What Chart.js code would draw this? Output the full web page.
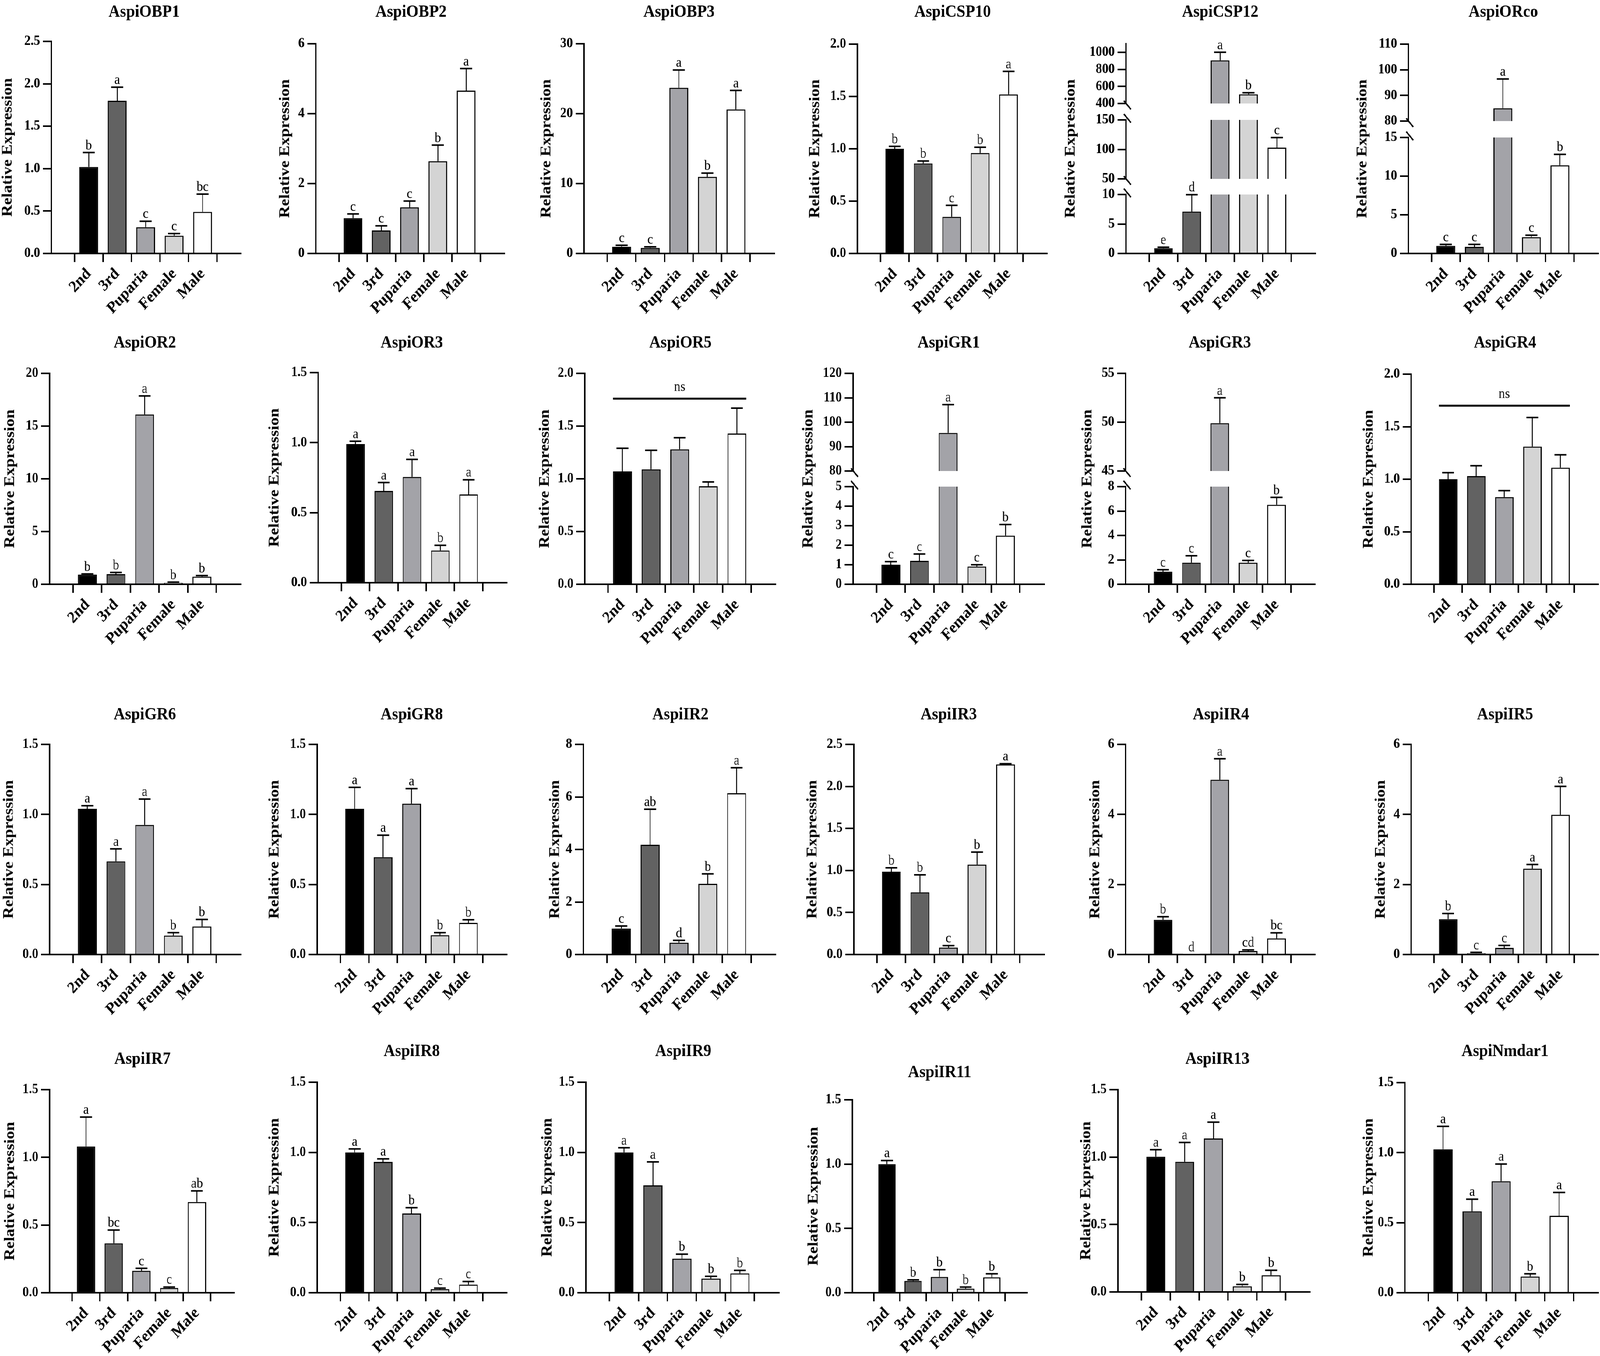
<!DOCTYPE html>
<html>
<head>
<meta charset="utf-8">
<script src="https://cdn.jsdelivr.net/npm/chart.js@4.4.1/dist/chart.umd.min.js"></script>
<style>
  html, body { margin: 0; padding: 0; background: #fff; overflow: hidden; }
  #wrap { position: relative; overflow: hidden; background: #fff; }
  #fig { position: absolute; left: 0; top: 0; width: 4550px; height: 3472px; transform-origin: 0 0; }
  #fig canvas { position: absolute; }
</style>
</head>
<body>
<div id="wrap"><div id="fig"></div></div>
<script>
// qPCR relative expression, mean and SE per developmental stage
const stages = ['2nd', '3rd', 'Puparia', 'Female', 'Male'];
const genes = ['AspiOBP1', 'AspiOBP2', 'AspiOBP3', 'AspiCSP10', 'AspiCSP12', 'AspiORco',
  'AspiOR2', 'AspiOR3', 'AspiOR5', 'AspiGR1', 'AspiGR3', 'AspiGR4',
  'AspiGR6', 'AspiGR8', 'AspiIR2', 'AspiIR3', 'AspiIR4', 'AspiIR5',
  'AspiIR7', 'AspiIR8', 'AspiIR9', 'AspiIR11', 'AspiIR13', 'AspiNmdar1'];

const means = [
  [1.02, 1.80, 0.31, 0.21, 0.49],
  [1.01, 0.66, 1.32, 2.64, 4.66],
  [0.95, 0.80, 23.7, 10.96, 20.6],
  [1.00, 0.86, 0.35, 0.96, 1.52],
  [0.9, 7.1, 905, 508, 103],
  [0.98, 0.86, 85, 2.11, 11.4],
  [0.92, 0.96, 16.1, 0.14, 0.72],
  [0.99, 0.655, 0.755, 0.23, 0.63],
  [1.07, 1.09, 1.28, 0.93, 1.43],
  [1.0, 1.2, 95.6, 0.91, 2.49],
  [1.03, 1.77, 49.9, 1.77, 6.51],
  [1.0, 1.03, 0.83, 1.31, 1.11],
  [1.04, 0.665, 0.925, 0.135, 0.2],
  [1.04, 0.695, 1.077, 0.138, 0.226],
  [0.99, 4.18, 0.45, 2.69, 6.14],
  [0.985, 0.74, 0.082, 1.07, 2.262],
  [0.99, 0.005, 4.99, 0.1, 0.46],
  [1.01, 0.04, 0.19, 2.45, 3.99],
  [1.08, 0.365, 0.162, 0.035, 0.67],
  [1.0, 0.932, 0.565, 0.026, 0.058],
  [1.0, 0.765, 0.243, 0.101, 0.138],
  [1.0, 0.092, 0.123, 0.032, 0.12],
  [1.003, 0.965, 1.138, 0.042, 0.124],
  [1.024, 0.581, 0.796, 0.116, 0.549]
];

const errors = [
  [0.17, 0.16, 0.07, 0.025, 0.21],
  [0.12, 0.13, 0.18, 0.46, 0.63],
  [0.22, 0.15, 2.54, 0.54, 2.72],
  [0.023, 0.023, 0.11, 0.055, 0.22],
  [0.16, 2.87, 95, 18, 17],
  [0.2, 0.32, 11.4, 0.25, 1.42],
  [0.06, 0.16, 1.76, 0.06, 0.1],
  [0.02, 0.06, 0.125, 0.037, 0.105],
  [0.22, 0.18, 0.11, 0.04, 0.24],
  [0.16, 0.35, 11.6, 0.09, 0.57],
  [0.16, 0.57, 2.6, 0.18, 0.61],
  [0.062, 0.098, 0.061, 0.277, 0.122],
  [0.022, 0.089, 0.185, 0.021, 0.05],
  [0.153, 0.157, 0.107, 0.018, 0.022],
  [0.095, 1.35, 0.09, 0.38, 0.97],
  [0.047, 0.208, 0.024, 0.149, 0.008],
  [0.09, 0, 0.6, 0.03, 0.16],
  [0.16, 0.02, 0.07, 0.12, 0.81],
  [0.217, 0.098, 0.018, 0.007, 0.082],
  [0.025, 0.022, 0.041, 0.007, 0.022],
  [0.033, 0.167, 0.032, 0.016, 0.021],
  [0.028, 0.008, 0.056, 0.012, 0.027],
  [0.052, 0.143, 0.121, 0.014, 0.037],
  [0.164, 0.087, 0.123, 0.019, 0.167]
];

const letters = [
  ['b', 'a', 'c', 'c', 'bc'],
  ['c', 'c', 'c', 'b', 'a'],
  ['c', 'c', 'a', 'b', 'a'],
  ['b', 'b', 'c', 'b', 'a'],
  ['e', 'd', 'a', 'b', 'c'],
  ['c', 'c', 'a', 'c', 'b'],
  ['b', 'b', 'a', 'b', 'b'],
  ['a', 'a', 'a', 'b', 'a'],
  [],
  ['c', 'c', 'a', 'c', 'b'],
  ['c', 'c', 'a', 'c', 'b'],
  [],
  ['a', 'a', 'a', 'b', 'b'],
  ['a', 'a', 'a', 'b', 'b'],
  ['c', 'ab', 'd', 'b', 'a'],
  ['b', 'b', 'c', 'b', 'a'],
  ['b', 'd', 'a', 'cd', 'bc'],
  ['b', 'c', 'c', 'a', 'a'],
  ['a', 'bc', 'c', 'c', 'ab'],
  ['a', 'a', 'b', 'c', 'c'],
  ['a', 'a', 'b', 'b', 'b'],
  ['a', 'b', 'b', 'b', 'b'],
  ['a', 'a', 'a', 'b', 'b'],
  ['a', 'a', 'a', 'b', 'a']
];

// "ns" bracket height (no significant difference)
const nsLevel = [null, null, null, null, null, null, null, null, 1.76, null, null, 1.70,
  null, null, null, null, null, null, null, null, null, null, null, null];

// y axis pieces [min, max, step], lowest piece first (several = broken axis)
const yRanges = [
  [[0, 2.5, 0.5]],
  [[0, 6, 2]],
  [[0, 30, 10]],
  [[0, 2, 0.5]],
  [[0, 10, 5], [50, 150, 50], [400, 1100, 200]],
  [[0, 15, 5], [80, 110, 10]],
  [[0, 20, 5]],
  [[0, 1.5, 0.5]],
  [[0, 2, 0.5]],
  [[0, 5, 1], [80, 120, 10]],
  [[0, 8, 2], [45, 55, 5]],
  [[0, 2, 0.5]],
  [[0, 1.5, 0.5]],
  [[0, 1.5, 0.5]],
  [[0, 8, 2]],
  [[0, 2.5, 0.5]],
  [[0, 6, 2]],
  [[0, 6, 2]],
  [[0, 1.5, 0.5]],
  [[0, 1.5, 0.5]],
  [[0, 1.5, 0.5]],
  [[0, 1.5, 0.5]],
  [[0, 1.5, 0.5]],
  [[0, 1.5, 0.5]]
];

// page layout: axisX, right, titleX, titleY, yTitleX, piece spans [top, bottom]
const layout = [
  [146, 685, 410, 31, 22, [[106, 649]]],
  [898, 1434, 1169, 31, 811, [[112, 649]]],
  [1661, 2202, 1931, 31, 1554, [[112, 649]]],
  [2438, 2977, 2709, 31, 2318, [[113, 649]]],
  [3202, 3740, 3470, 31, 3045, [[498, 649], [307, 458], [112, 265]]],
  [4005, 4545, 4275, 31, 3875, [[352, 649], [113, 310]]],
  [141, 684, 412, 878, 29, [[956, 1496]]],
  [905, 1441, 1171, 878, 781, [[954, 1492]]],
  [1663, 2205, 1935, 878, 1550, [[956, 1496]]],
  [2426, 2969, 2698, 878, 2299, [[1246, 1496], [956, 1206]]],
  [3201, 3739, 3469, 878, 3093, [[1246, 1496], [956, 1206]]],
  [4013, 4545, 4280, 878, 3893, [[958, 1496]]],
  [141, 684, 412, 1830, 26, [[1906, 2444]]],
  [902, 1441, 1171, 1830, 781, [[1906, 2444]]],
  [1659, 2205, 1935, 1830, 1579, [[1906, 2444]]],
  [2428, 2969, 2698, 1830, 2311, [[1906, 2444]]],
  [3201, 3739, 3472, 1830, 3115, [[1906, 2444]]],
  [4013, 4545, 4280, 1830, 3927, [[1906, 2444]]],
  [141, 666, 405, 2712, 29, [[2790, 3310]]],
  [902, 1441, 1171, 2692, 781, [[2771, 3310]]],
  [1666, 2215, 1943, 2692, 1557, [[2771, 3310]]],
  [2424, 2921, 2672, 2746, 2314, [[2816, 3310]]],
  [3179, 3725, 3462, 2712, 3089, [[2790, 3308]]],
  [3995, 4545, 4280, 2692, 3893, [[2772, 3310]]]
];

const FONT = 'Liberation Serif';
const barColors = ['#000000', '#626262', '#a3a3a8', '#d4d4d4', '#ffffff'];
const X_AXIS_H = 160;

// stretch the 4550 x 3472 figure over the whole window
const fig = document.getElementById('fig');
const wrap = document.getElementById('wrap');
const vw = document.documentElement.clientWidth || window.innerWidth;
const vh = document.documentElement.clientHeight || window.innerHeight;
const sx = vw / 4550, sy = vh / 3472;
wrap.style.width = vw + 'px';
wrap.style.height = vh + 'px';
fig.style.transform = 'scale(' + sx + ',' + sy + ')';
const dpr = (window.devicePixelRatio || 1) * Math.max(sx, sy);

function decorPlugin(g, k, nPieces, cl, ct) {
  const isBottom = k === 0, isTop = k === nPieces - 1;
  return {
    id: 'decor' + g + '_' + k,
    afterDatasetsDraw(chart) {
      const ctx = chart.ctx, ys = chart.scales.y;
      const bars = chart.getDatasetMeta(0).data;
      ctx.save();
      ctx.strokeStyle = '#000';
      ctx.fillStyle = '#000';
      means[g].forEach((m, i) => {
        const hi = m + errors[g][i];
        if (hi < ys.min || (hi > ys.max && !isTop)) return;
        const bx = bars[i].x;
        const yv = ys.getPixelForValue(Math.max(m, ys.min));
        const yh = ys.getPixelForValue(hi);
        if (errors[g][i] > 0) {
          ctx.lineWidth = 2.5;
          ctx.beginPath();
          ctx.moveTo(bx, yv);
          ctx.lineTo(bx, yh);
          ctx.stroke();
          ctx.lineWidth = 4;
          ctx.beginPath();
          ctx.moveTo(bx - 17, yh);
          ctx.lineTo(bx + 17, yh);
          ctx.stroke();
        }
        const lt = letters[g][i];
        if (lt) {
          ctx.font = '36px "' + FONT + '"';
          ctx.textAlign = 'center';
          ctx.textBaseline = 'alphabetic';
          ctx.fillText(lt, bx, yh - 8);
        }
      });
      if (nsLevel[g] != null && isTop) {
        const y = ys.getPixelForValue(nsLevel[g]);
        const x0 = bars[0].x - bars[0].width / 2;
        const x1 = bars[4].x + bars[4].width / 2;
        ctx.lineWidth = 5;
        ctx.beginPath();
        ctx.moveTo(x0, y);
        ctx.lineTo(x1, y);
        ctx.stroke();
        ctx.font = '36px "' + FONT + '"';
        ctx.textAlign = 'center';
        ctx.textBaseline = 'alphabetic';
        ctx.fillText('ns', (x0 + x1) / 2, y - 20);
      }
      ctx.restore();
    },
    afterDraw(chart) {
      const ctx = chart.ctx, area = chart.chartArea;
      ctx.save();
      ctx.strokeStyle = '#000';
      ctx.fillStyle = '#000';
      ctx.lineWidth = 4;
      // break marks on the y axis
      const slash = (yEdge, dir) => {
        const cx = area.left + 4, cy = yEdge + dir * 4;
        ctx.beginPath();
        ctx.moveTo(cx - 10, cy - 11);
        ctx.lineTo(cx + 10, cy + 11);
        ctx.stroke();
      };
      if (!isBottom) slash(area.bottom, 1);
      if (!isTop) slash(area.top, -1);
      if (isBottom) {
        const L = layout[g];
        const pieces = L[5];
        ctx.font = 'bold 45px "' + FONT + '"';
        ctx.textAlign = 'center';
        ctx.textBaseline = 'middle';
        ctx.fillText(genes[g], L[2] - cl, L[3] - ct);
        const midY = (pieces[pieces.length - 1][0] + pieces[0][1]) / 2 - ct;
        ctx.translate(L[4] - cl, midY);
        ctx.rotate(-Math.PI / 2);
        ctx.font = 'bold 42px "' + FONT + '"';
        ctx.fillText('Relative Expression', 0, 0);
      }
      ctx.restore();
    }
  };
}

genes.forEach((name, g) => {
  const [axisX, right, , titleY, yTitleX, pieces] = layout[g];
  const baseline = pieces[0][1];
  const cl = yTitleX - 40;
  const ct = titleY - 45;
  const cr = Math.min(right + 14, 4550);
  const cb = Math.min(baseline + 175, 3472);
  const w = cr - cl, h = cb - ct;

  yRanges[g].forEach((rng, p) => {
    const [ymin, ymax, step] = rng;
    const [pTop, pBottom] = pieces[p];
    const isBottom = p === 0;
    const cv = document.createElement('canvas');
    cv.width = w;
    cv.height = h;
    cv.style.left = cl + 'px';
    cv.style.top = ct + 'px';
    fig.appendChild(cv);

    new Chart(cv.getContext('2d'), {
      type: 'bar',
      data: {
        datasets: [{
          data: means[g].map((v, i) => ({ x: i, y: v })),
          backgroundColor: barColors,
          borderColor: '#000',
          borderWidth: 3,
          borderSkipped: 'start',
          barPercentage: 0.66,
          categoryPercentage: 1,
          clip: 0
        }]
      },
      options: {
        responsive: false,
        animation: false,
        devicePixelRatio: dpr,
        events: [],
        layout: {
          padding: {
            left: 0,
            right: cr - right,
            top: pTop - ct,
            bottom: isBottom ? (cb - baseline - X_AXIS_H) : (cb - pBottom)
          }
        },
        plugins: { legend: { display: false }, tooltip: { enabled: false } },
        scales: {
          x: {
            type: 'linear',
            display: isBottom,
            min: -0.65,
            max: 4.68,
            ticks: {
              stepSize: 1,
              includeBounds: false,
              autoSkip: false,
              minRotation: 45,
              maxRotation: 45,
              padding: 6,
              color: '#000',
              font: { family: FONT, size: 42, weight: 'bold' },
              callback: v => stages[v]
            },
            grid: { drawOnChartArea: false, color: '#000', lineWidth: 4, tickLength: 22 },
            border: { display: true, color: '#000', width: 4 },
            afterFit: s => { s.height = isBottom ? X_AXIS_H : 0; }
          },
          y: {
            min: ymin,
            max: ymax,
            ticks: {
              stepSize: step,
              includeBounds: false,
              padding: 8,
              color: '#000',
              font: { family: FONT, size: 36, weight: 'bold' },
              callback: v => step < 1 ? Number(v).toFixed(1) : String(v)
            },
            grid: { drawOnChartArea: false, color: '#000', lineWidth: 4, tickLength: 24 },
            border: { display: true, color: '#000', width: 4 },
            afterFit: s => { s.width = axisX - cl; }
          }
        }
      },
      plugins: [decorPlugin(g, p, yRanges[g].length, cl, ct)]
    });
  });
});
</script>
</body>
</html>
